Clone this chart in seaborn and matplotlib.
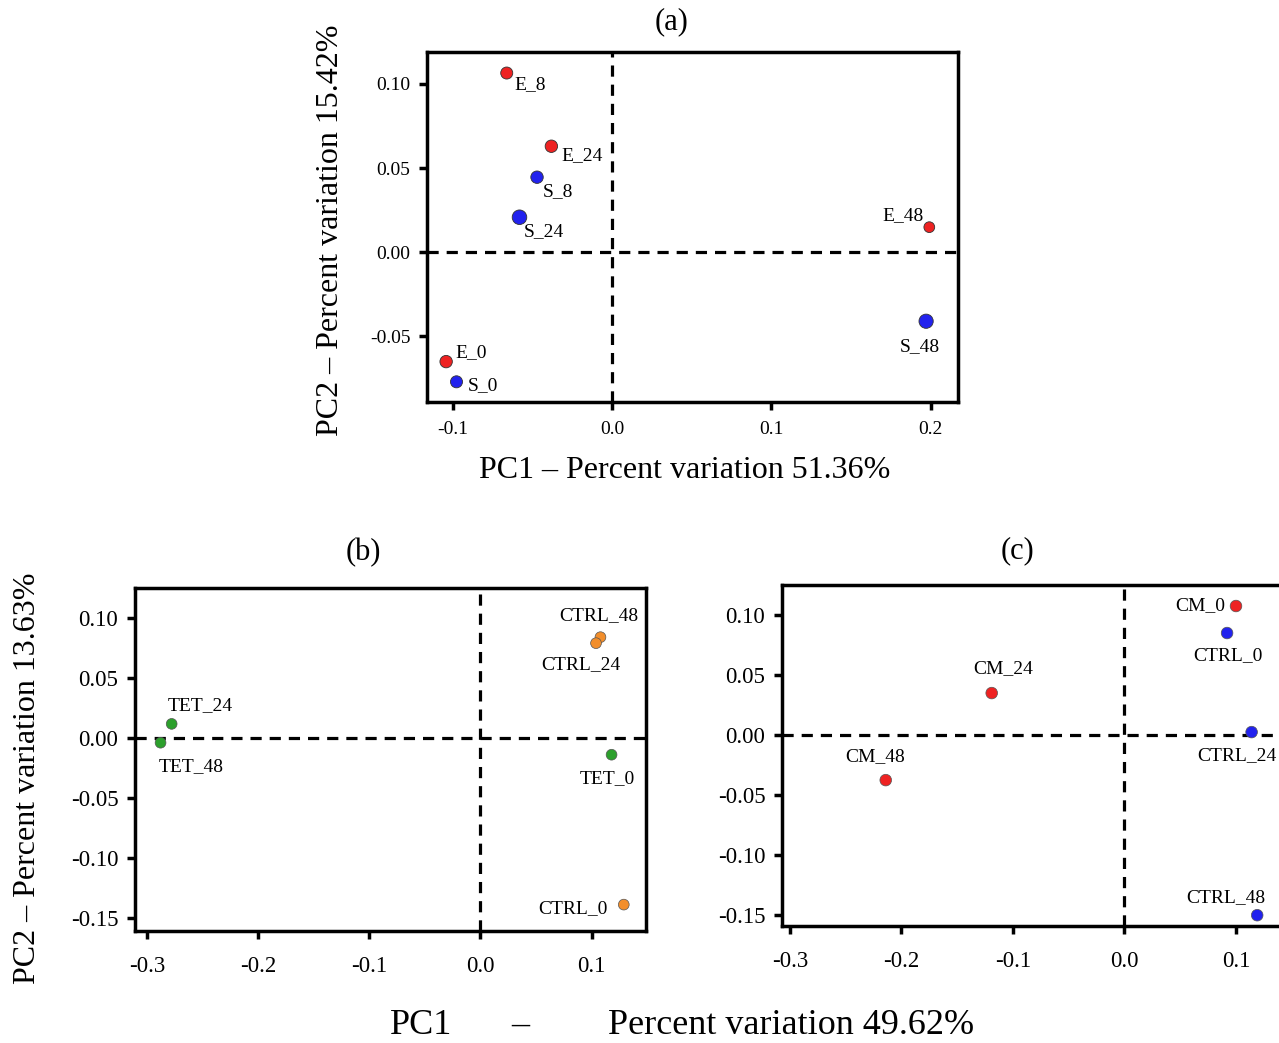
import matplotlib
matplotlib.use("Agg")
import matplotlib.pyplot as plt
import seaborn as sns
import pandas as pd

# ---------------- data ----------------
a_labels = ["E_8", "E_24", "S_8", "S_24", "E_48", "S_48", "E_0", "S_0"]
a_pc1 = [-0.066, -0.038, -0.047, -0.058, 0.199, 0.197, -0.104, -0.0975]
a_pc2 = [0.1065, 0.063, 0.0446, 0.0208, 0.0149, -0.041, -0.065, -0.077]
a_group = ["E", "E", "S", "S", "E", "S", "E", "S"]

b_labels = ["CTRL_48", "CTRL_24", "TET_24", "TET_48", "TET_0", "CTRL_0"]
b_pc1 = [0.108, 0.104, -0.278, -0.288, 0.118, 0.129]
b_pc2 = [0.084, 0.079, 0.0117, -0.004, -0.014, -0.139]
b_group = ["CTRL", "CTRL", "TET", "TET", "TET", "CTRL"]

c_labels = ["CM_0", "CTRL_0", "CM_24", "CTRL_24", "CM_48", "CTRL_48"]
c_pc1 = [0.100, 0.092, -0.119, 0.114, -0.214, 0.119]
c_pc2 = [0.1075, 0.085, 0.035, 0.0025, -0.0375, -0.150]
c_group = ["CM", "CTRL", "CM", "CTRL", "CM", "CTRL"]

a_xticks = [-0.1, 0.0, 0.1, 0.2]
a_yticks = [-0.05, 0.00, 0.05, 0.10]
bc_xticks = [-0.3, -0.2, -0.1, 0.0, 0.1]
bc_yticks = [-0.15, -0.10, -0.05, 0.00, 0.05, 0.10]

# ---------------- style ----------------
sns.set_style("ticks")
plt.rcParams["font.family"] = ["Liberation Serif", "DejaVu Serif"]
plt.rcParams["text.color"] = "black"
plt.rcParams["axes.labelcolor"] = "black"
plt.rcParams["xtick.color"] = "black"
plt.rcParams["ytick.color"] = "black"

W, H = 1279, 1043
fig = plt.figure(figsize=(W / 100, H / 100), dpi=100)


def px_axes(left, top, right, bottom):
    return fig.add_axes([left / W, 1 - bottom / H, (right - left) / W, (bottom - top) / H])


def style_axes(ax, xticks, yticks, fs, xfmt, yfmt, xpad=6):
    for s in ax.spines.values():
        s.set_linewidth(2.5)
        s.set_color("black")
    ax.set_xticks(xticks)
    ax.set_yticks(yticks)
    ax.set_xticklabels([xfmt.format(v) for v in xticks], fontsize=fs)
    ax.set_yticklabels([yfmt.format(v) for v in yticks], fontsize=fs)
    ax.tick_params(direction="out", length=6, width=2.5, pad=6, colors="black", labelcolor="black")
    ax.tick_params(axis="x", pad=xpad)
    ax.axhline(0, color="black", ls=(0, (3.5, 2.5)), lw=2.3, zorder=1)
    ax.axvline(0, color="black", ls=(0, (3.5, 2.5)), lw=2.3, zorder=1)
    ax.set_xlabel("")
    ax.set_ylabel("")


def label_points(ax, xs, ys, labels, offsets, fs=14):
    for x, y, t in zip(xs, ys, labels):
        dx, dy, ha = offsets[t]
        ax.annotate(t, (x, y), xytext=(dx, dy), textcoords="offset pixels",
                    ha=ha, va="center", fontsize=fs, color="black")


# ---------------- panel (a) ----------------
axa = px_axes(427, 52, 958, 402)
dfa = pd.DataFrame({"PC1": a_pc1, "PC2": a_pc2, "group": a_group, "label": a_labels})
size_a = {"E_8": 75, "E_24": 80, "S_8": 80, "S_24": 110, "E_48": 60, "S_48": 105, "E_0": 80, "S_0": 75}
dfa["size"] = dfa["label"].map(size_a)
sns.scatterplot(data=dfa, x="PC1", y="PC2", hue="group", size="size", sizes=(60, 110),
                palette={"E": "#ee2222", "S": "#2222ee"}, edgecolor="#333333", linewidth=0.6,
                ax=axa, zorder=3, legend=False)
axa.set_xlim(-0.116, 0.217)
axa.set_ylim(-0.089, 0.119)
style_axes(axa, a_xticks, a_yticks, 14, "{:.1f}", "{:.2f}", xpad=8)
off_a = {"E_8": (8, -12, "left"), "E_24": (10, -9, "left"), "S_8": (6, -14, "left"),
         "S_24": (4, -14, "left"), "E_48": (-6, 12, "right"), "S_48": (-6, -25, "center"),
         "E_0": (9, 9, "left"), "S_0": (11, -4, "left")}
label_points(axa, a_pc1, a_pc2, a_labels, off_a, fs=14)
fig.text(672 / W, 1 - 22 / H, "(a)", ha="center", va="center", fontsize=22)
fig.text(685 / W, 1 - 471 / H, "PC1 \u2013 Percent variation 51.36%", ha="center", va="center", fontsize=23)
fig.text(330 / W, 1 - 230 / H, "PC2 \u2013 Percent variation 15.42%", ha="center", va="center",
         fontsize=23, rotation=90)

# ---------------- panel (b) ----------------
axb = px_axes(135, 588, 646, 931)
dfb = pd.DataFrame({"PC1": b_pc1, "PC2": b_pc2, "group": b_group})
sns.scatterplot(data=dfb, x="PC1", y="PC2", hue="group",
                palette={"CTRL": "#f28e2b", "TET": "#2ca02c"}, s=60, edgecolor="#555555",
                linewidth=0.5, ax=axb, zorder=3, legend=False)
axb.set_xlim(-0.311, 0.149)
axb.set_ylim(-0.161, 0.125)
style_axes(axb, bc_xticks, bc_yticks, 16.5, "{:.1f}", "{:.2f}", xpad=12)
off_b = {"CTRL_48": (-2, 22, "center"), "CTRL_24": (-15, -21, "center"),
         "TET_24": (29, 18, "center"), "TET_48": (31, -24, "center"),
         "TET_0": (-4, -24, "center"), "CTRL_0": (-16, -4, "right")}
label_points(axb, b_pc1, b_pc2, b_labels, off_b, fs=14)
fig.text(363 / W, 1 - 553 / H, "(b)", ha="center", va="center", fontsize=22)

# ---------------- panel (c) ----------------
axc = px_axes(782, 585, 1294, 926)
dfc = pd.DataFrame({"PC1": c_pc1, "PC2": c_pc2, "group": c_group})
sns.scatterplot(data=dfc, x="PC1", y="PC2", hue="group",
                palette={"CM": "#ee2222", "CTRL": "#2222ee"}, s=70, edgecolor="#555555",
                linewidth=0.5, ax=axc, zorder=3, legend=False)
axc.set_xlim(-0.307, 0.152)
axc.set_ylim(-0.159, 0.125)
style_axes(axc, bc_xticks, bc_yticks, 16.5, "{:.1f}", "{:.2f}", xpad=12)
off_c = {"CM_0": (-11, 0, "right"), "CTRL_0": (1, -23, "center"), "CM_24": (11, 24, "center"),
         "CTRL_24": (-15, -24, "center"), "CM_48": (-11, 23, "center"),
         "CTRL_48": (-31, 18, "center")}
label_points(axc, c_pc1, c_pc2, c_labels, off_c, fs=14)
fig.text(1018 / W, 1 - 551 / H, "(c)", ha="center", va="center", fontsize=22)

# ---------------- shared labels ----------------
fig.text(28 / W, 1 - 778 / H, "PC2 \u2013 Percent variation 13.63%", ha="center", va="center",
         fontsize=23, rotation=90)
fig.text(421 / W, 1 - 1025 / H, "PC1", ha="center", va="center", fontsize=26)
fig.text(520 / W, 1 - 1025 / H, "\u2013", ha="center", va="center", fontsize=26)
fig.text(791 / W, 1 - 1025 / H, "Percent variation 49.62%", ha="center", va="center", fontsize=26)

fig.savefig("out.png", dpi=100)
